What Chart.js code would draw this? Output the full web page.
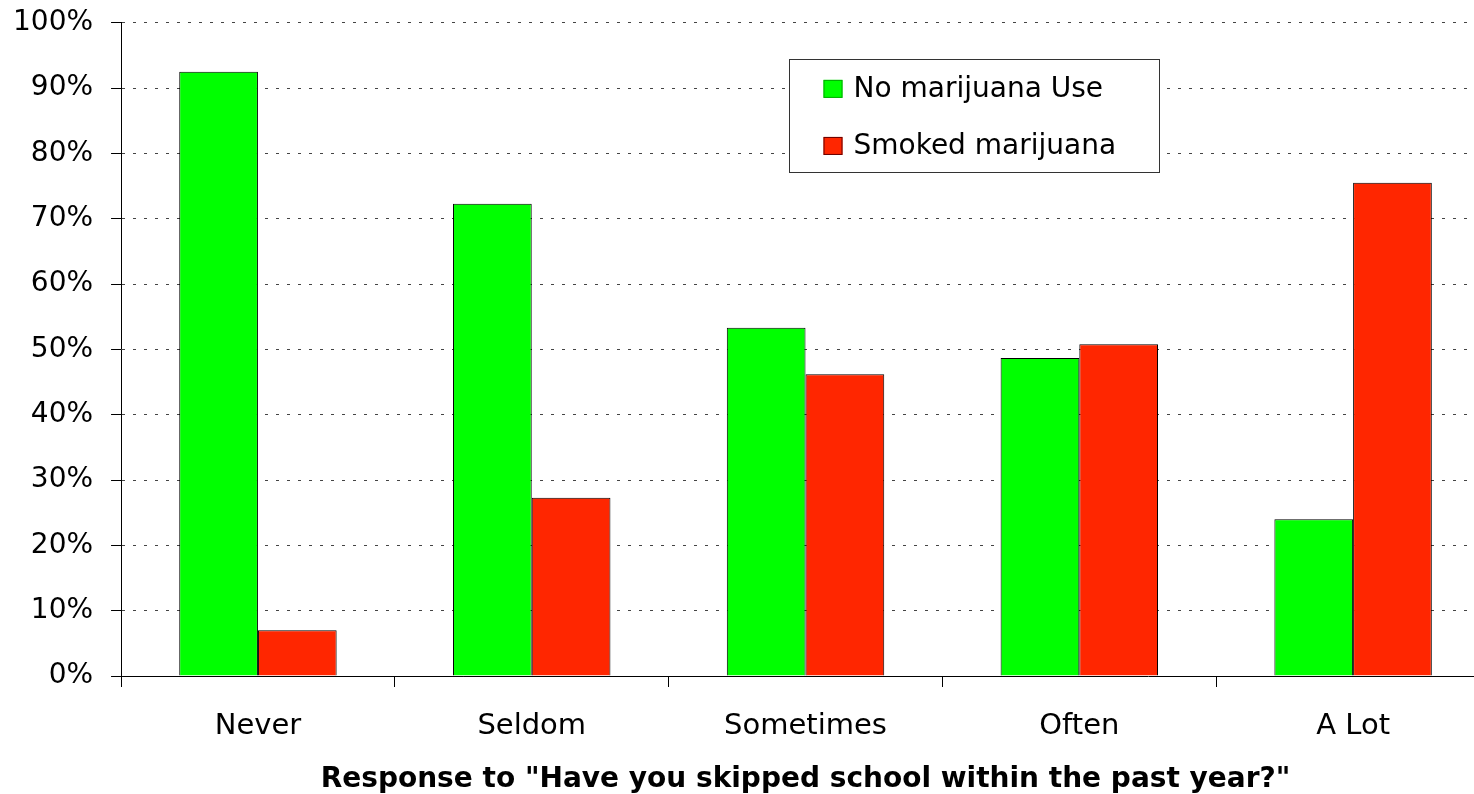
<!DOCTYPE html>
<html>
<head>
<meta charset="utf-8">
<script src="https://cdn.jsdelivr.net/npm/chart.js@4/dist/chart.umd.min.js"></script>
<style>
  html, body { margin: 0; padding: 0; background: #fff; overflow: hidden; }
  #wrap { position: absolute; left: -18px; top: -12px; width: 1508px; height: 808px; }
</style>
</head>
<body>
<div id="wrap"><canvas id="c"></canvas></div>
<script>
const categories = ['Never', 'Seldom', 'Sometimes', 'Often', 'A Lot'];
const seriesNames = ['No marijuana Use', 'Smoked marijuana'];
const noUse = [92.5, 72.3, 53.3, 48.7, 24.0];
const smoked = [7.0, 27.3, 46.2, 50.8, 75.5];
const yTickLabels = ['0%', '10%', '20%', '30%', '40%', '50%', '60%', '70%', '80%', '90%', '100%'];
const xTitle = 'Response to "Have you skipped school within the past year?"';

const FONT = "'DejaVu Sans', 'Liberation Sans', Arial, sans-serif";

const legendBox = {
  id: 'legendBox',
  afterDraw(chart) {
    const { ctx, chartArea: a } = chart;
    const w = a.right - a.left, h = a.bottom - a.top;
    const x0 = Math.round(a.left + w * 0.4876) + 0.5;
    const x1 = Math.round(a.left + w * 0.758) + 0.5;
    const y0 = Math.round(a.top + h * 0.055) + 0.5;
    const y1 = Math.round(a.top + h * 0.228) + 0.5;
    ctx.save();
    ctx.fillStyle = '#fff';
    ctx.fillRect(x0, y0, x1 - x0, y1 - y0);
    ctx.strokeStyle = '#333';
    ctx.lineWidth = 1;
    ctx.strokeRect(x0, y0, x1 - x0, y1 - y0);
    const bh = y1 - y0;
    const rows = [0.26, 0.765];
    chart.data.datasets.forEach((ds, i) => {
      const cy = y0 + bh * rows[i];
      ctx.fillStyle = ds.backgroundColor;
      ctx.fillRect(x0 + 34, cy - 9, 19, 18);
      ctx.strokeStyle = ds.legendBorder;
      ctx.strokeRect(x0 + 34.5, cy - 8.5, 18, 17);
      ctx.fillStyle = '#000';
      ctx.font = '28px ' + FONT;
      ctx.textBaseline = 'middle';
      ctx.textAlign = 'left';
      ctx.fillText(ds.label, x0 + 64, cy + 1);
    });
    ctx.restore();
  }
};

new Chart(document.getElementById('c'), {
  type: 'bar',
  data: {
    labels: categories,
    datasets: [
      { label: seriesNames[0], data: noUse, backgroundColor: '#00FF00', borderColor: '#000', borderWidth: 1, legendBorder: '#0a0' },
      { label: seriesNames[1], data: smoked, backgroundColor: '#FF2600', borderColor: '#000', borderWidth: 1, legendBorder: '#600' }
    ]
  },
  options: {
    responsive: true,
    maintainAspectRatio: false,
    animation: false,
    devicePixelRatio: 1,
    layout: { padding: { left: 13, top: 0, right: 0, bottom: 2 } },
    plugins: { legend: { display: false }, tooltip: { enabled: false } },
    datasets: { bar: { categoryPercentage: 0.575, barPercentage: 1.0 } },
    scales: {
      x: {
        grid: { display: true, drawOnChartArea: false, drawTicks: true, tickLength: 11, tickColor: '#000', offset: true },
        border: { display: true, color: '#000', width: 1 },
        ticks: { color: '#000', font: { family: FONT, size: 29, lineHeight: 1.0 }, padding: 25, maxRotation: 0 },
        title: { display: true, text: xTitle, color: '#000', font: { family: FONT, size: 28, weight: 'bold', lineHeight: 1.0 }, padding: { top: 0, bottom: 0 } }
      },
      y: {
        min: 0, max: 100,
        grid: { color: '#444', lineWidth: 1, tickLength: 10, tickColor: '#000', drawTicks: true },
        border: { display: true, color: '#000', width: 1, dash: [3, 8] },
        ticks: { stepSize: 10, color: '#000', font: { family: FONT, size: 28 }, padding: 18,
          callback: (v) => yTickLabels[Math.round(v / 10)] }
      }
    }
  },
  plugins: [legendBox]
});
</script>
</body>
</html>
